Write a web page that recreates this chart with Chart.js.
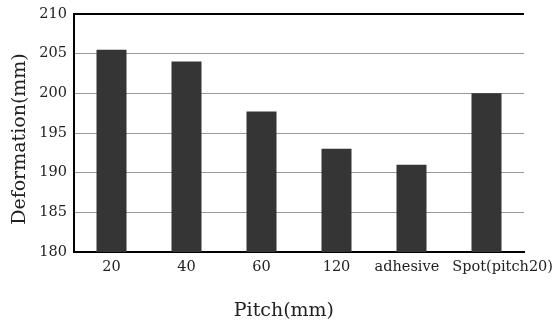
<!DOCTYPE html>
<html>
<head>
<meta charset="utf-8">
<script src="https://cdn.jsdelivr.net/npm/chart.js@4/dist/chart.umd.min.js"></script>
<style>
  html, body { margin: 0; padding: 0; background: #fff; }
  #wrap { width: 560px; height: 322px; }
</style>
</head>
<body>
<div id="wrap"><canvas id="c" width="560" height="322"></canvas></div>
<script>
// Deformation measured for each pitch / joining method
const categories = ['20', '40', '60', '120', 'adhesive', 'Spot(pitch20)'];
const deformation = [205.5, 204, 197.7, 193, 191, 200];
const yTicks = [180, 185, 190, 195, 200, 205, 210];

// small nudges of the two long category labels (in spaces)
const labelPad = { 'adhesive': [0, 2], 'Spot(pitch20)': [7, 0] };

const FONT = '"DejaVu Serif", "Liberation Serif", serif';

new Chart(document.getElementById('c'), {
  type: 'bar',
  data: {
    labels: categories,
    datasets: [{
      data: deformation,
      backgroundColor: '#353535',
      borderWidth: 0,
      barPercentage: 0.4,
      categoryPercentage: 1.0
    }]
  },
  options: {
    responsive: false,
    animation: false,
    devicePixelRatio: 1,
    layout: { padding: { top: 14, right: 36, left: 0, bottom: 0 } },
    plugins: { legend: { display: false }, tooltip: { enabled: false } },
    scales: {
      x: {
        offset: true,
        grid: { display: false, drawTicks: false },
        border: { color: '#000', width: 2 },
        ticks: {
          color: '#222',
          font: { family: FONT, size: 14.5 },
          padding: 7,
          maxRotation: 0,
          autoSkip: false,
          callback: function (v, i) {
            const lab = categories[i];
            const p = labelPad[lab];
            return p ? ' '.repeat(p[0]) + lab + ' '.repeat(p[1]) : lab;
          }
        },
        title: { display: true, text: 'Pitch(mm)     ', color: '#222', font: { family: FONT, size: 19 }, padding: { top: 0, bottom: 0 } },
        afterFit: s => { s.height = 70; s.paddingLeft = 0; s.paddingRight = 0; }
      },
      y: {
        min: 180, max: 210,
        afterBuildTicks: s => { s.ticks = yTicks.map(v => ({ value: v })); },
        grid: {
          drawTicks: false,
          color: c => (c.tick && (c.tick.value === 210)) ? '#000' : '#999',
          lineWidth: c => (c.tick && (c.tick.value === 210)) ? 2 : 1
        },
        border: { color: '#000', width: 2 },
        ticks: { color: '#222', font: { family: FONT, size: 14.5 }, padding: 7 },
        title: { display: true, text: 'Deformation(mm)  ', color: '#222', font: { family: FONT, size: 19 }, padding: { top: 9, bottom: 0 } },
        afterFit: s => { s.width = 74; s.paddingTop = 0; s.paddingBottom = 0; }
      }
    }
  }
});
</script>
</body>
</html>
